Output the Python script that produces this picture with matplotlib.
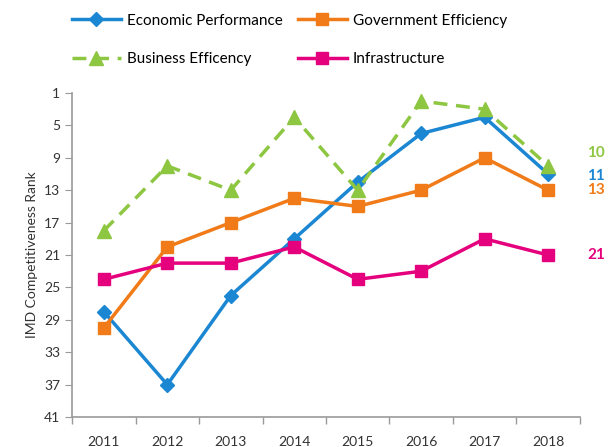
import matplotlib.pyplot as plt

plt.rcParams['font.family'] = ['Lato', 'DejaVu Sans']

years = ['2011', '2012', '2013', '2014', '2015', '2016', '2017', '2018']
economic = [28, 37, 26, 19, 12, 6, 4, 11]
government = [30, 20, 17, 14, 15, 13, 9, 13]
business = [18, 10, 13, 4, 13, 2, 3, 10]
infrastructure = [24, 22, 22, 20, 24, 23, 19, 21]
y_ticks = [1, 5, 9, 13, 17, 21, 25, 29, 33, 37, 41]

c_blue = '#1b87d3'
c_orange = '#f07b18'
c_green = '#8dc641'
c_pink = '#e5007d'

fig = plt.figure(figsize=(6.11, 4.47), dpi=100)
ax = fig.add_axes([0.118, 0.067, 0.831, 0.725])

x = list(range(len(years)))
l_eco, = ax.plot(x, economic, color=c_blue, lw=2.5, marker='D', ms=7, label='Economic Performance')
l_gov, = ax.plot(x, government, color=c_orange, lw=2.5, marker='s', ms=8, label='Government Efficiency')
l_bus, = ax.plot(x, business, color=c_green, lw=2.5, ls=(0, (4, 2.5)), marker='^', ms=10, label='Business Efficency')
l_inf, = ax.plot(x, infrastructure, color=c_pink, lw=2.5, marker='s', ms=8, label='Infrastructure')

ax.set_ylim(41, 1)
ax.set_yticks(y_ticks)
ax.set_xlim(-0.5, len(years) - 0.5)
ax.set_xticks(x)
ax.set_xticklabels(years)
ax.set_xticks([i - 0.5 for i in range(len(years) + 1)], minor=True)
ax.tick_params(axis='x', which='major', length=0, pad=14, labelsize=10, colors='#333333')
ax.tick_params(axis='x', which='minor', length=5, color='#999999', width=1)
ax.tick_params(axis='y', length=5, color='#999999', labelsize=10, labelcolor='#333333')
for s in ['top', 'right']:
    ax.spines[s].set_visible(False)
for s in ['left', 'bottom']:
    ax.spines[s].set_color('#999999')
    ax.spines[s].set_linewidth(1.2)
ax.set_ylabel('IMD Competitiveness Rank', fontsize=10, color='#333333')

# end labels
ends = [(business, c_green, -1.6), (economic, c_blue, 0.2), (government, c_orange, 0), (infrastructure, c_pink, 0)]
for vals, c, dy in ends:
    ax.annotate(str(vals[-1]), xy=(len(years) - 1, vals[-1] + dy), xytext=(28, 0),
                textcoords='offset points', color=c, fontsize=11, fontweight='bold',
                va='center', ha='left', annotation_clip=False)

fig.legend([l_eco, l_bus, l_gov, l_inf],
           [l_eco.get_label(), l_bus.get_label(), l_gov.get_label(), l_inf.get_label()],
           ncol=2, loc='upper left', bbox_to_anchor=(0.095, 1.0), frameon=False,
           fontsize=11, handlelength=3.2, columnspacing=1.0, labelspacing=1.6,
           handletextpad=0.4)

fig.savefig('out.png', dpi=100)
